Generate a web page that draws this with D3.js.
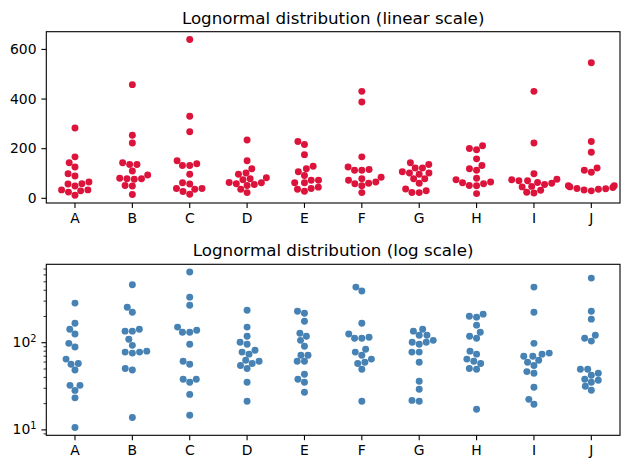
<!DOCTYPE html>
<html><head><meta charset="utf-8">
<script src="https://cdn.jsdelivr.net/npm/d3@7"></script>
<style>
html,body{margin:0;padding:0;background:#fff;}
text{font-family:"DejaVu Sans",sans-serif;fill:#000;}
</style></head>
<body><svg id="chart" width="630" height="469"></svg>
<script>
const categories = ["A","B","C","D","E","F","G","H","I","J"];
const seriesA = [281,165,141,124,97,88,64,56,57,48,32,32,28,23,10.5];
const seriesB = [456,252,221,134,134,141,108,92,77,75,77,79,50,48,13.7];
const seriesC = [638,329,266,149,130,130,137,95,60.5,56,37.6,34.7,37.6,25.2,14.5];
const seriesD = [233,149,117,95,100,77,73,81,62,57,60.5,54,50,34.7,21];
const seriesE = [227,215,174,127,105,117,90,71,71,60.5,60.5,43,37.6,34.7,26.6];
const seriesF = [429,386,165,124,111,111,114,83,77,71,64,57,59,49,21];
const seriesG = [141,134,120,120,105,100,95,100,77,77,59,35.6,28.8,21.5,21];
const seriesH = [210,199,194,157,130,117,111,79,73,60.5,57,64,50,49,17];
const seriesI = [429,221,97,69,69,73,75,59,62,54,46,44,30.4,22.1,19.4];
const seriesJ = [544,227,184,111,120,103,49,49,41.8,44,37.6,36.6,34.7,31.2,28.1];
const allSeries = [seriesA,seriesB,seriesC,seriesD,seriesE,seriesF,seriesG,seriesH,seriesI,seriesJ];
const linearTicks = [0,200,400,600];
const logMajorTicks = [10,100];
const titles = ["Lognormal distribution (linear scale)","Lognormal distribution (log scale)"];

const svg = d3.select("#chart");
const left = 46.3, right = 620;
const R = 3.47;
const allVals = allSeries.flat();
const vmin = d3.min(allVals), vmax = d3.max(allVals);

function beeswarm(cx, ys, halfWidth){
  const pts = ys.map((y,i)=>({i, p:-y}));
  pts.sort((a,b)=>a.p-b.p);
  const swarm = [];
  const out = new Array(ys.length);
  pts.forEach((pt,k)=>{
    let chosen;
    if(k===0){ chosen = cx; }
    else {
      const neighbors = [];
      for(let j=swarm.length-1;j>=0;j--){
        if(pt.p - swarm[j].p < 2*R) neighbors.push(swarm[j]); else break;
      }
      const cands = [cx];
      let leftFirst = true;
      neighbors.forEach(n=>{
        const dy = pt.p - n.p;
        const dx = Math.sqrt(Math.max(4*R*R - dy*dy,0))*1.05;
        if(leftFirst){ cands.push(n.x-dx, n.x+dx); } else { cands.push(n.x+dx, n.x-dx); }
        leftFirst = !leftFirst;
      });
      const order = cands.map((c,idx)=>({c,idx,o:Math.abs(c-cx)}))
        .sort((a,b)=>a.o-b.o || a.idx-b.idx);
      chosen = order[0].c;
      for(const o of order){
        const ok = neighbors.every(n=>{
          const ddx=n.x-o.c, ddy=n.p-pt.p;
          return ddx*ddx+ddy*ddy >= 4*R*R - 1e-9;
        });
        if(ok){ chosen=o.c; break; }
      }
    }
    swarm.push({x:chosen,p:pt.p});
    out[pt.i] = chosen;
  });
  // gutters
  return out.map(v=>Math.max(cx-halfWidth, Math.min(cx+halfWidth, v)));
}

function panel(top, bottom, isLog, color, title, titleY){
  const g = svg.append("g");
  const x = d3.scaleBand().domain(categories).range([left,right]).padding(0);
  let y;
  if(isLog){
    const l0 = Math.log10(vmin), l1 = Math.log10(vmax), m = (l1-l0)*0.05;
    y = d3.scaleLog().domain([Math.pow(10,l0-m), Math.pow(10,l1+m)]).range([bottom, top]);
  } else {
    const m = (vmax-vmin)*0.05;
    y = d3.scaleLinear().domain([vmin-m, vmax+m]).range([bottom, top]);
  }
  categories.forEach((c,ci)=>{
    const vals = allSeries[ci];
    const cx = x(c)+x.bandwidth()/2;
    const ys = vals.map(v=>y(v));
    const xs = beeswarm(cx, ys, x.bandwidth()*0.4);
    g.selectAll(null).data(vals).enter().append("circle")
      .attr("cx",(d,i)=>xs[i]).attr("cy",(d,i)=>ys[i]).attr("r",R)
      .attr("fill",color);
  });
  const xa = g.append("g").attr("transform",`translate(0,${bottom})`)
    .call(d3.axisBottom(x).tickSize(4.9).tickPadding(4.9));
  xa.select(".domain").remove();
  xa.selectAll("line").attr("stroke","#000").attr("stroke-width",1.1);
  xa.selectAll("text").attr("font-size","13.9px").attr("font-family","DejaVu Sans").attr("fill","#000");
  if(isLog){
    const dom = y.domain();
    const minor = [];
    for(let e=0;e<4;e++) for(let k=2;k<=9;k++){ const v=k*Math.pow(10,e); if(v>=dom[0]&&v<=dom[1]) minor.push(v); }
    const ya = g.append("g").attr("transform",`translate(${left},0)`)
      .call(d3.axisLeft(y).tickValues(minor).tickSize(2.8).tickFormat(""));
    ya.select(".domain").remove();
    ya.selectAll("line").attr("stroke","#000").attr("stroke-width",0.8);
    const yb = g.append("g").attr("transform",`translate(${left},0)`)
      .call(d3.axisLeft(y).tickValues(logMajorTicks).tickSize(4.9).tickPadding(4.9).tickFormat(""));
    yb.select(".domain").remove();
    yb.selectAll("line").attr("stroke","#000").attr("stroke-width",1.1);
    logMajorTicks.forEach(v=>{
      const t = g.append("text").attr("x",left-9.8).attr("y",y(v)+5).attr("text-anchor","end")
        .attr("font-size","13.9px");
      t.append("tspan").text("10");
      t.append("tspan").attr("dy",-5.5).attr("font-size","9.8px").text(String(Math.round(Math.log10(v))));
    });
  } else {
    const ya = g.append("g").attr("transform",`translate(${left},0)`)
      .call(d3.axisLeft(y).tickValues(linearTicks).tickSize(4.9).tickPadding(4.9).tickFormat(d3.format("d")));
    ya.select(".domain").remove();
    ya.selectAll("line").attr("stroke","#000").attr("stroke-width",1.1);
    ya.selectAll("text").attr("font-size","13.9px").attr("font-family","DejaVu Sans").attr("fill","#000");
  }
  g.append("rect").attr("x",left).attr("y",top).attr("width",right-left).attr("height",bottom-top)
    .attr("fill","none").attr("stroke","#000").attr("stroke-width",1.1);
  g.append("text").attr("x",(left+right)/2).attr("y",titleY).attr("text-anchor","middle")
    .attr("font-size","16.7px").text(title);
}

panel(31.7, 203, false, "#dc143c", titles[0], 24);
panel(264.3, 435.3, true, "#4682b4", titles[1], 255.5);
</script></body></html>
